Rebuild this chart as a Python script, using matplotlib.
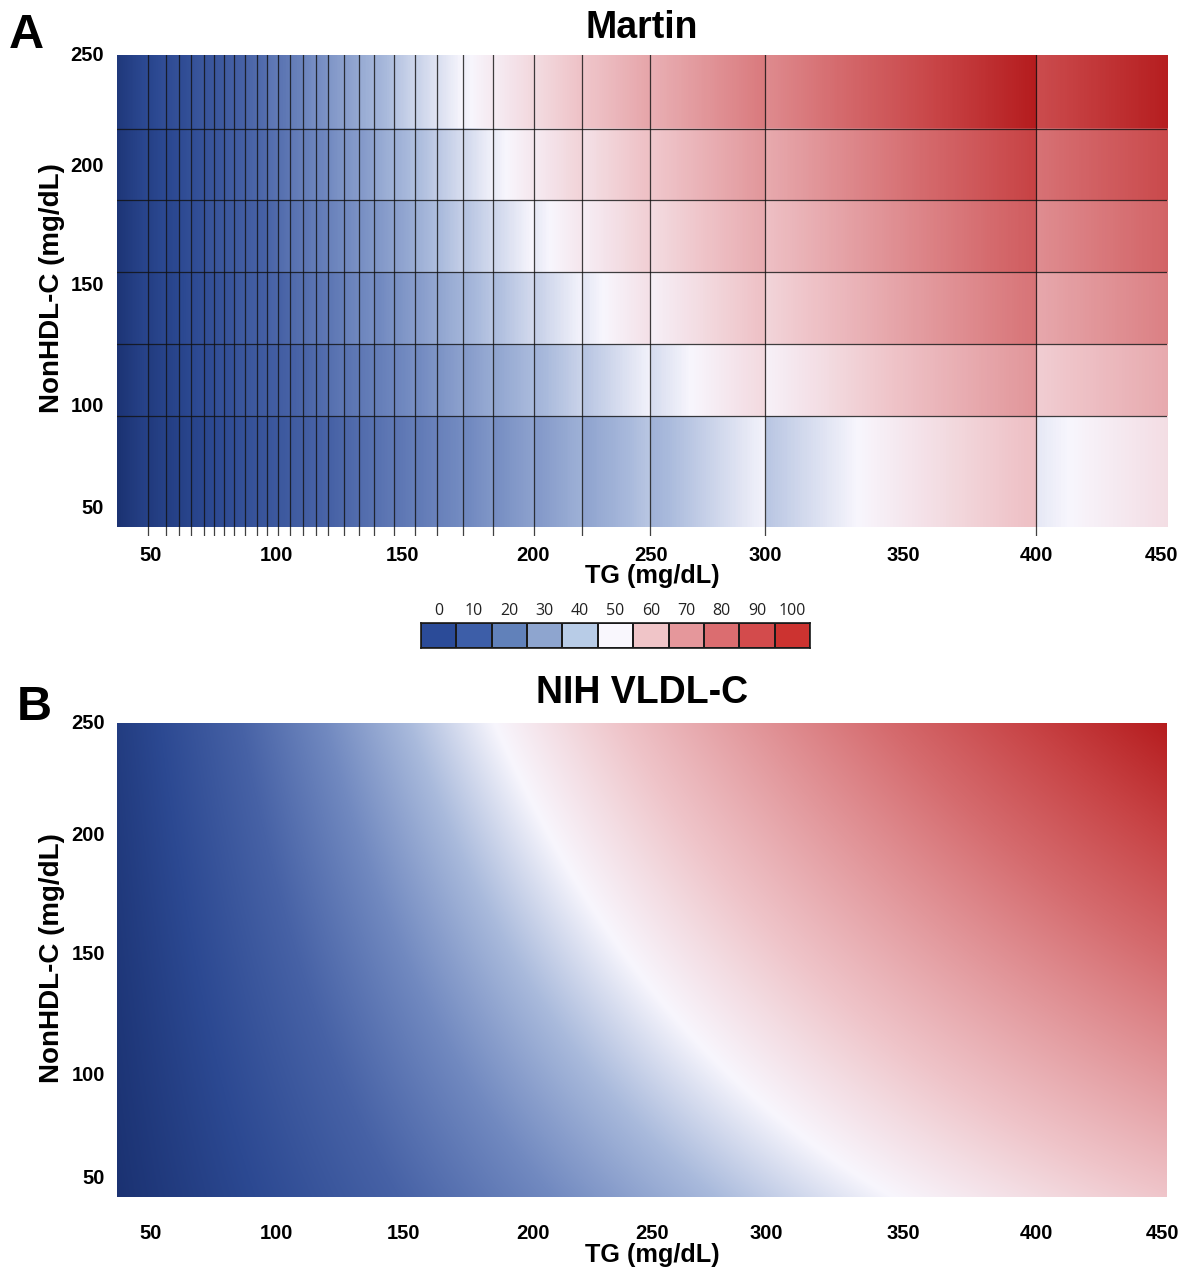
import numpy as np
import matplotlib
matplotlib.use("Agg")
import matplotlib.pyplot as plt
from matplotlib.colors import LinearSegmentedColormap, ListedColormap, TwoSlopeNorm
from matplotlib.transforms import ScaledTranslation

# ---------------- data ----------------
# Martin/Hopkins strata: TG lower bounds (mg/dL) and NonHDL-C boundaries (mg/dL)
martin_tg_lower = [7, 50, 57, 62, 67, 72, 76, 80, 84, 88, 93, 97, 101, 106, 111, 116,
                   121, 127, 133, 139, 147, 155, 164, 174, 186, 202, 221, 248, 293, 400]
martin_nonhdl_bounds = [100, 130, 160, 190, 220]
# factor per TG stratum (rows) and NonHDL-C stratum (<100,100-129,130-159,160-189,190-219,>=220)
martin_factors = [
    [3.5, 3.4, 3.3, 3.3, 3.2, 3.1],
    [4.0, 3.9, 3.7, 3.6, 3.6, 3.4],
    [4.3, 4.1, 4.0, 3.9, 3.8, 3.6],
    [4.5, 4.3, 4.1, 4.0, 3.9, 3.9],
    [4.7, 4.4, 4.3, 4.2, 4.1, 3.9],
    [4.8, 4.6, 4.4, 4.2, 4.2, 4.1],
    [4.9, 4.6, 4.5, 4.3, 4.3, 4.2],
    [5.0, 4.8, 4.6, 4.4, 4.3, 4.2],
    [5.1, 4.8, 4.6, 4.5, 4.4, 4.3],
    [5.2, 4.9, 4.7, 4.6, 4.4, 4.3],
    [5.3, 5.0, 4.8, 4.7, 4.5, 4.4],
    [5.4, 5.1, 4.8, 4.7, 4.5, 4.3],
    [5.5, 5.2, 5.0, 4.7, 4.6, 4.5],
    [5.6, 5.3, 5.0, 4.8, 4.6, 4.5],
    [5.7, 5.4, 5.1, 4.9, 4.7, 4.5],
    [5.8, 5.5, 5.2, 5.0, 4.8, 4.6],
    [6.0, 5.5, 5.3, 5.0, 4.8, 4.6],
    [6.1, 5.7, 5.3, 5.1, 4.9, 4.7],
    [6.2, 5.8, 5.4, 5.2, 5.0, 4.7],
    [6.3, 5.9, 5.6, 5.3, 5.0, 4.8],
    [6.5, 6.0, 5.7, 5.4, 5.1, 4.8],
    [6.7, 6.2, 5.8, 5.4, 5.2, 4.9],
    [6.8, 6.3, 5.9, 5.5, 5.3, 5.0],
    [7.0, 6.5, 6.0, 5.7, 5.4, 5.1],
    [7.3, 6.7, 6.2, 5.8, 5.5, 5.2],
    [7.6, 6.9, 6.4, 6.0, 5.6, 5.3],
    [8.0, 7.2, 6.6, 6.2, 5.9, 5.4],
    [8.5, 7.6, 7.0, 6.5, 6.1, 5.6],
    [9.5, 8.3, 7.5, 7.0, 6.5, 5.9],
    [11.9, 10.0, 8.8, 8.1, 7.5, 6.7],
]
# NIH (Sampson) VLDL-C equation coefficients
nih_tg_divisor = 8.56
nih_interaction_divisor = 2140.0
nih_tg_sq_divisor = 16100.0
nih_intercept = 9.44

# colour-scale midpoints (white), mg/dL VLDL-C
martin_white = 34.7
nih_white = 32.0

tg_range = [37.5, 451.5]
nonhdl_range = [53.7, 250.7]

x_ticks = [50, 100, 150, 200, 250, 300, 350, 400, 450]
y_ticks = [50, 100, 150, 200, 250]
cbar_labels = ["0", "10", "20", "30", "40", "50", "60", "70", "80", "90", "100"]
cbar_colors = ["#2b4b98", "#3d5ea8", "#6181ba", "#8ea5cf", "#b8cce7", "#f9f7fd",
               "#f0c5c8", "#e5979b", "#db6d70", "#d34b4c", "#cc3330"]
heat_colors = ["#1b3272", "#2c4992", "#4762a6", "#7189c0", "#a9badc", "#f8f6fd",
               "#efc4c9", "#e2979b", "#d56b6e", "#c84446", "#b51c1e"]

# ---------------- figure ----------------
W, H = 1188, 1268
fig = plt.figure(figsize=(W / 100, H / 100), dpi=100)
FONT = "Liberation Sans"

def fx(px):
    return px / W

def fy(py):
    return 1 - py / H

cmap = LinearSegmentedColormap.from_list("bwr_custom", heat_colors, N=512)

tg = np.arange(tg_range[0] + 0.125, tg_range[1], 0.25)
nh = np.arange(nonhdl_range[0] + 0.125, nonhdl_range[1], 0.25)
TG, NH = np.meshgrid(tg, nh)

# Martin VLDL-C
fac = np.array(martin_factors)
ti = np.clip(np.searchsorted(martin_tg_lower, TG, side="right") - 1, 0, len(martin_tg_lower) - 1)
ni = np.searchsorted(martin_nonhdl_bounds, NH, side="right")
martin_v = TG / fac[ti, ni]

# NIH VLDL-C
nih_v = TG / nih_tg_divisor + TG * NH / nih_interaction_divisor - TG ** 2 / nih_tg_sq_divisor - nih_intercept

x_off = [2, 1, 1, 4, -4, -17, -6, 0, -1]
y_off = [30, 12, 13, 12, 3]

def setup_axes(ax, xpad):
    for s in ax.spines.values():
        s.set_visible(False)
    ax.set_xlim(*tg_range)
    ax.set_ylim(*nonhdl_range)
    ax.set_xticks(x_ticks)
    ax.set_yticks(y_ticks)
    ax.set_xticklabels([str(v) for v in x_ticks])
    ax.set_yticklabels([str(v) for v in y_ticks])
    ax.tick_params(length=0, labelsize=14.5)
    ax.tick_params(axis="x", pad=xpad)
    ax.tick_params(axis="y", pad=9)
    for lab in ax.get_xticklabels() + ax.get_yticklabels():
        lab.set_fontfamily(FONT)
        lab.set_fontweight("bold")
    for lab, o in zip(ax.get_xticklabels(), x_off):
        lab.set_transform(lab.get_transform() + ScaledTranslation(o / 100, 0, fig.dpi_scale_trans))
    for lab, o in zip(ax.get_yticklabels(), y_off):
        lab.set_transform(lab.get_transform() + ScaledTranslation(0, o / 100, fig.dpi_scale_trans))

# ---- panel A ----
axA = fig.add_axes([fx(116.5), fy(536), fx(1166.7) - fx(116.5), fy(55) - fy(536)])
axA.imshow(martin_v, origin="lower", aspect="auto", cmap=cmap,
           norm=TwoSlopeNorm(vmin=martin_v.min(), vcenter=martin_white, vmax=martin_v.max()),
           extent=[tg_range[0], tg_range[1], nonhdl_range[0], nonhdl_range[1]],
           interpolation="nearest")
for b in martin_tg_lower[1:]:
    axA.axvline(b, color="#111111", lw=0.9, alpha=0.8)
for b in martin_nonhdl_bounds:
    axA.axhline(b, color="#111111", lw=0.9, alpha=0.8)
setup_axes(axA, 7.5)

# ---- panel B ----
axB = fig.add_axes([fx(117.3), fy(1206), fx(1167) - fx(117.3), fy(723) - fy(1206)])
axB.imshow(nih_v, origin="lower", aspect="auto", cmap=cmap,
           norm=TwoSlopeNorm(vmin=nih_v.min(), vcenter=nih_white, vmax=nih_v.max()),
           extent=[tg_range[0], tg_range[1], nonhdl_range[0], nonhdl_range[1]],
           interpolation="bilinear")
setup_axes(axB, 13)

# ---- colour bar ----
axC = fig.add_axes([fx(421), fy(648), fx(810) - fx(421), fy(623) - fy(648)])
axC.pcolormesh(np.arange(12), [0, 1], np.arange(11)[None, :],
               cmap=ListedColormap(cbar_colors), vmin=-0.5, vmax=10.5,
               edgecolors="#1a1a1a", linewidth=1.2)
axC.set_xlim(0, 11)
axC.set_ylim(0, 1)
axC.set_yticks([])
axC.set_xticks(np.arange(11) + 0.5)
axC.set_xticklabels(cbar_labels, fontfamily="Open Sans", fontsize=11.5, color="#222222")
axC.xaxis.tick_top()
axC.tick_params(axis="x", length=0, pad=3)
for s in axC.spines.values():
    s.set_edgecolor("#1a1a1a")
    s.set_linewidth(1.2)

# ---- texts ----
fig.text(fx(641.6), fy(38), "Martin", ha="center", va="baseline",
         fontsize=27, fontweight="bold", fontfamily=FONT)
fig.text(fx(642), fy(703), "NIH VLDL-C", ha="center", va="baseline",
         fontsize=27, fontweight="bold", fontfamily=FONT)
fig.text(fx(9), fy(48), "A", ha="left", va="baseline",
         fontsize=35, fontweight="bold", fontfamily=FONT)
fig.text(fx(17), fy(720), "B", ha="left", va="baseline",
         fontsize=35, fontweight="bold", fontfamily=FONT)
fig.text(fx(652), fy(583), "TG (mg/dL)", ha="center", va="baseline",
         fontsize=18.2, fontweight="bold", fontfamily=FONT)
fig.text(fx(652), fy(1262), "TG (mg/dL)", ha="center", va="baseline",
         fontsize=18.2, fontweight="bold", fontfamily=FONT)
fig.text(fx(52), fy(288), "NonHDL-C (mg/dL)", ha="center", va="center", rotation=90,
         fontsize=20, fontweight="bold", fontfamily=FONT)
fig.text(fx(52), fy(958), "NonHDL-C (mg/dL)", ha="center", va="center", rotation=90,
         fontsize=20, fontweight="bold", fontfamily=FONT)

fig.savefig("out.png", dpi=100)
